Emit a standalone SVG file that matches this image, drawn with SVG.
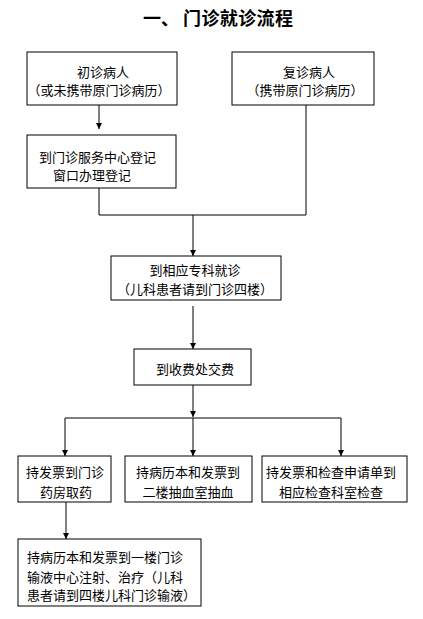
<svg xmlns="http://www.w3.org/2000/svg" width="423" height="619" viewBox="0 0 423 619">
<style>
  .box { fill: #ffffff; stroke: #000000; stroke-width: 1; }
  .t { font-family: "Noto Sans CJK SC", "Liberation Sans", sans-serif; font-size: 13px; fill: #000000; }
  .c { text-anchor: middle; }
  .title { font-family: "Noto Sans CJK SC", "Liberation Sans", sans-serif; font-size: 18px; font-weight: bold; fill: #000000; }
  .ln { fill: none; stroke: #000000; stroke-width: 1; }
  .ar { marker-end: url(#arrow); }
</style>
<defs>
  <marker id="arrow" markerUnits="userSpaceOnUse" markerWidth="6" markerHeight="6" refX="6" refY="3" orient="auto">
    <path d="M0,0 L6,3 L0,6 z" fill="#000000"/>
  </marker>
</defs>
<rect width="423" height="619" fill="#ffffff"/>
<g id="title">
  <text class="title" x="143" y="25">一、</text>
  <text class="title" x="183" y="25" textLength="110">门诊就诊流程</text>
</g>
<g id="connectors">
  <line class="ln ar" x1="99" y1="105" x2="99" y2="129"/>
  <polyline class="ln" points="99,188 99,215 306,215 306,105"/>
  <line class="ln ar" x1="193" y1="215" x2="193" y2="256"/>
  <line class="ln ar" x1="193" y1="306" x2="193" y2="349"/>
  <line class="ln ar" x1="193" y1="385" x2="193" y2="417"/>
  <line class="ln" x1="65" y1="418" x2="341" y2="418"/>
  <line class="ln ar" x1="65" y1="418" x2="65" y2="456"/>
  <line class="ln ar" x1="193" y1="418" x2="193" y2="456"/>
  <line class="ln ar" x1="341" y1="418" x2="341" y2="456"/>
  <line class="ln ar" x1="66" y1="502" x2="66" y2="539"/>
</g>
<g id="n1">
  <rect class="box" x="27" y="52" width="150" height="53"/>
  <text class="t c" x="103" y="77">初诊病人</text>
  <text class="t c" x="99" y="95">（或未携带原门诊病历）</text>
</g>
<g id="n2">
  <rect class="box" x="232" y="52" width="142" height="53"/>
  <text class="t c" x="309" y="77">复诊病人</text>
  <text class="t c" x="305" y="95">（携带原门诊病历）</text>
</g>
<g id="n3">
  <rect class="box" x="27" y="135" width="149" height="53"/>
  <text class="t" x="39" y="162">到门诊服务中心登记</text>
  <text class="t" x="53" y="180">窗口办理登记</text>
</g>
<g id="n4">
  <rect class="box" x="111" y="256" width="170" height="44"/>
  <text class="t c" x="195" y="275">到相应专科就诊</text>
  <text class="t c" x="195" y="294">（儿科患者请到门诊四楼）</text>
</g>
<g id="n5">
  <rect class="box" x="134" y="349" width="117" height="36"/>
  <text class="t c" x="195" y="374">到收费处交费</text>
</g>
<g id="n6">
  <rect class="box" x="18" y="456" width="93" height="46"/>
  <text class="t c" x="65" y="477">持发票到门诊</text>
  <text class="t c" x="66" y="497">药房取药</text>
</g>
<g id="n7">
  <rect class="box" x="125" y="456" width="127" height="46"/>
  <text class="t c" x="188" y="477">持病历本和发票到</text>
  <text class="t c" x="188" y="497">二楼抽血室抽血</text>
</g>
<g id="n8">
  <rect class="box" x="262" y="456" width="145" height="46"/>
  <text class="t c" x="331" y="477">持发票和检查申请单到</text>
  <text class="t c" x="331" y="497">相应检查科室检查</text>
</g>
<g id="n9">
  <rect class="box" x="18" y="539" width="183" height="67"/>
  <text class="t" x="27" y="562">持病历本和发票到一楼门诊</text>
  <text class="t" x="27" y="582">输液中心注射、治疗（儿科</text>
  <text class="t" x="27" y="600">患者请到四楼儿科门诊输液）</text>
</g>
</svg>
